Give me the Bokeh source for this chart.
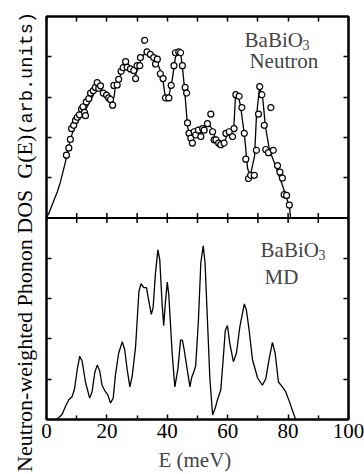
import math
from bokeh.plotting import figure
from bokeh.layouts import row
from bokeh.models import Range1d, LinearAxis, FixedTicker, Span, Label, Div
from bokeh.embed import file_html
from bokeh.resources import INLINE

# ---- Data: neutron (top panel) ----
neutron_line_E = [0, 0.7, 2.3, 3.6, 4.6, 6.3, 7.9, 9.0, 10.2, 12.3, 14.6, 16.9, 19.0, 20.6, 22.3, 22.8,
                  24.5, 26.2, 28.4, 29.5, 30.5, 31.8, 32.8, 35.0, 36.6, 38.3, 39.4, 40.4, 41.7, 42.7,
                  44.4, 45.0, 45.7, 46.7, 47.7, 49.3, 51.7, 53.3, 55.0, 56.0, 57.6, 58.9, 59.9, 62.0,
                  62.6, 63.2, 64.2, 65.6, 66.6, 67.5, 68.9, 69.5, 70.5, 71.5, 72.5, 73.8, 75.8, 78.1,
                  80.5, 80.8]
neutron_line_G = [0.02, 0.1, 0.41, 0.65, 0.89, 1.4, 1.95, 2.2, 2.38, 2.6, 2.92, 3.25, 3.1, 2.98, 2.98, 3.25,
                  3.54, 3.78, 3.7, 3.54, 3.78, 4.02, 4.1, 4.0, 3.87, 3.54, 2.98, 2.98, 3.46, 4.0,
                  4.1, 3.75, 3.22, 2.26, 2.02, 2.1, 2.21, 2.38, 2.19, 1.95, 1.83, 1.85, 2.1, 2.21,
                  3.05, 3.1, 2.81, 2.02, 1.22, 1.06, 1.54, 2.5, 3.22, 3.05, 2.26, 1.7, 1.3, 0.82,
                  0.26, 0.02]
neutron_pts_E = [6.6, 7.4, 7.9, 8.3, 9.0, 9.6, 10.2, 10.9, 11.6, 12.1, 12.6, 12.9, 13.2, 14.0, 14.6, 15.5,
                 16.2, 16.8, 17.3, 17.9, 18.8, 19.9, 20.6, 21.2, 21.9, 22.3, 23.4, 23.9, 24.7, 25.4,
                 26.2, 26.7, 27.8, 28.9, 29.5, 30.0, 30.9, 31.1, 32.5, 33.3, 34.4, 35.5, 36.1, 36.7,
                 37.7, 38.6, 39.4, 40.5, 41.3, 42.2, 42.7, 43.8, 44.4, 45.0, 45.9, 46.4, 46.7, 47.2,
                 47.8, 48.3, 48.9, 49.4, 50.3, 51.1, 51.7, 52.2, 53.3, 54.4, 55.0, 55.5, 56.1, 57.0,
                 57.7, 58.8, 59.4, 60.5, 61.6, 62.1, 62.7, 63.8, 64.7, 65.5, 66.0, 66.9, 67.6, 68.8,
                 69.5, 70.2, 70.6, 71.3, 72.1, 72.6, 73.5, 74.3, 75.1, 76.5, 77.3, 78.1, 78.7, 79.5,
                 80.4]
neutron_pts_G = [1.56, 1.74, 1.95, 2.22, 2.30, 2.42, 2.50, 2.56, 2.70, 2.76, 2.62, 2.54, 2.88, 2.96, 3.10, 3.16,
                 3.24, 3.36, 3.22, 3.28, 3.10, 3.05, 2.98, 2.94, 2.80, 3.29, 3.30, 3.44, 3.64, 3.73,
                 3.88, 3.74, 3.70, 3.66, 3.46, 3.78, 3.78, 3.98, 4.41, 4.12, 4.06, 3.98, 3.82, 3.94,
                 3.58, 3.46, 2.98, 2.98, 3.29, 3.78, 4.10, 4.12, 4.10, 3.78, 3.24, 3.10, 2.36, 2.10,
                 1.98, 1.86, 2.14, 2.06, 2.18, 2.02, 2.22, 2.18, 2.34, 2.58, 2.14, 1.94, 1.94, 1.86,
                 1.82, 1.86, 2.10, 2.14, 2.02, 2.22, 3.06, 3.02, 2.74, 2.10, 1.46, 0.98, 1.06, 1.06,
                 1.68, 2.58, 3.26, 3.06, 2.30, 1.70, 1.62, 2.74, 1.68, 1.30, 1.14, 0.99, 0.58, 0.56,
                 0.32]

# ---- Data: MD (bottom panel) ----
md_E = [3.0, 4.1, 5.2, 6.3, 7.4, 8.5, 9.3, 10.2, 11.0, 11.8, 12.9, 14.3, 15.1, 16.0, 16.8, 17.6, 18.4,
        19.5, 20.3, 21.2, 22.1, 22.8, 23.9, 25.1, 25.9, 26.7, 27.6, 28.4, 29.5, 30.6, 31.3, 32.2,
        33.1, 33.9, 34.7, 35.3, 36.1, 36.9, 37.5, 38.3, 38.8, 39.4, 40.0, 40.5, 41.6, 42.5, 43.5,
        44.4, 45.0, 45.6, 46.4, 47.5, 48.1, 48.9, 49.4, 50.3, 51.1, 51.9, 52.5, 53.3, 54.1, 55.0,
        55.9, 56.6, 57.7, 58.5, 59.2, 59.9, 60.7, 61.9, 62.9, 64.0, 65.5, 66.2, 67.1, 68.2, 69.9,
        71.5, 72.6, 73.7, 74.8, 75.7, 76.8, 78.1, 79.2, 80.4, 81.5, 82.5]
md_G = [0.0, 0.05, 0.13, 0.33, 0.49, 0.57, 0.77, 1.25, 1.57, 1.45, 0.93, 0.53, 0.69, 1.17, 1.35, 1.21, 0.85,
        0.69, 0.61, 0.41, 0.53, 1.09, 1.65, 1.93, 1.73, 1.25, 0.81, 1.09, 1.81, 3.17, 3.37, 3.27,
        3.27, 2.93, 2.61, 2.77, 3.65, 4.21, 3.97, 2.85, 2.33, 2.93, 3.41, 3.09, 1.65, 0.81, 1.25,
        1.97, 1.97, 1.73, 1.33, 0.81, 1.05, 1.21, 1.33, 2.45, 3.89, 4.31, 3.89, 2.45, 1.01, 0.11,
        0.29, 0.49, 0.73, 1.49, 2.21, 2.33, 1.89, 1.43, 1.65, 2.29, 2.87, 2.71, 2.21, 1.49, 1.03,
        0.85, 1.01, 1.49, 1.91, 1.65, 0.93, 0.81, 0.69, 0.45, 0.21, 0.0]

x_major_ticks = [0, 20, 40, 60, 80, 100]
x_minor_ticks = [10, 30, 50, 70, 90]
x_all_ticks = [0, 10, 20, 30, 40, 50, 60, 70, 80, 90, 100]
y_ticks = [1, 2, 3, 4, 6, 7, 8, 9]
panel_split = [5]
y_title_main = "Neutron-weighted Phonon DOS&nbsp; G(E)"
y_title_unit = "(arb.units)"

SERIF = "Liberation Serif"
MONO = "Liberation Mono"

LABEL_W = 38
p = figure(width=364 - LABEL_W, height=474, output_backend="svg", toolbar_location=None,
           x_range=Range1d(0, 100), y_range=Range1d(0, 10),
           min_border_left=46 - LABEL_W, min_border_right=16, min_border_top=16, min_border_bottom=42,
           x_axis_location=None, y_axis_location=None)
p.extra_y_ranges = {"top": Range1d(-5, 5)}
p.grid.visible = False
p.background_fill_color = "white"
p.border_fill_color = "white"
p.outline_line_color = "black"
p.outline_line_width = 2

def style_axis(ax, labels=False):
    ax.axis_line_width = 2
    ax.axis_line_color = "black"
    ax.major_tick_in = 5
    ax.major_tick_out = 0
    ax.minor_tick_in = 4
    ax.minor_tick_out = 0
    ax.major_tick_line_width = 1.5
    ax.minor_tick_line_width = 1.5
    if not labels:
        ax.major_label_text_font_size = "0px"
        ax.major_label_text_color = None
        ax.major_label_standoff = 0

bottom = LinearAxis(ticker=FixedTicker(ticks=x_major_ticks, minor_ticks=x_minor_ticks))
style_axis(bottom, labels=True)
bottom.major_label_text_font = SERIF
bottom.major_label_text_font_size = "21px"
bottom.major_label_text_color = "black"
bottom.major_label_standoff = 4
bottom.axis_label = "E  (meV)"
bottom.axis_label_text_font = SERIF
bottom.axis_label_text_font_size = "21px"
bottom.axis_label_text_font_style = "normal"
bottom.axis_label_standoff = 7
p.add_layout(bottom, "below")

top = LinearAxis(ticker=FixedTicker(ticks=x_all_ticks))
style_axis(top)
p.add_layout(top, "above")

left = LinearAxis(ticker=FixedTicker(ticks=y_ticks))
style_axis(left)
p.add_layout(left, "left")

right = LinearAxis(ticker=FixedTicker(ticks=y_ticks))
style_axis(right)
p.add_layout(right, "right")

# panel divider and its ticks
p.add_layout(Span(location=panel_split[0], dimension="width", line_color="black", line_width=2))
p.scatter(x=x_all_ticks, y=[panel_split[0]] * len(x_all_ticks), marker="dash", angle=math.pi / 2,
          size=10, line_color="black", line_width=1.5)

# top panel: neutron
p.line(neutron_line_E, neutron_line_G, y_range_name="top", line_color="black", line_width=1.3)
p.scatter(neutron_pts_E, neutron_pts_G, y_range_name="top", marker="circle", size=6,
          fill_color="white", line_color="black", line_width=1.2)

# bottom panel: MD
p.line(md_E, md_G, line_color="black", line_width=1.3)

# annotations
p.add_layout(Label(x=65.6, y=4.42, y_range_name="top", text="BaBiO", text_font=SERIF,
                   text_font_size="21px", text_baseline="alphabetic"))
p.add_layout(Label(x=84.8, y=4.30, y_range_name="top", text="3", text_font=SERIF,
                   text_font_size="14px", text_baseline="alphabetic"))
p.add_layout(Label(x=67.2, y=3.89, y_range_name="top", text="Neutron", text_font=SERIF,
                   text_font_size="21px", text_baseline="alphabetic"))
p.add_layout(Label(x=70.9, y=4.21, text="BaBiO", text_font=SERIF,
                   text_font_size="21px", text_baseline="alphabetic"))
p.add_layout(Label(x=90.1, y=4.09, text="3", text_font=SERIF,
                   text_font_size="14px", text_baseline="alphabetic"))
p.add_layout(Label(x=72.2, y=3.53, text="MD", text_font=SERIF,
                   text_font_size="21px", text_baseline="alphabetic"))

# y-axis title (serif part + monospace part) as rotated HTML text
title_html = (
    '<div style="position:absolute; left:14px; top:472px; transform:rotate(-90deg); '
    'transform-origin:left top; white-space:nowrap; line-height:1; color:black; '
    f'font-family:\'{SERIF}\'; font-size:22px;">'
    f'{y_title_main}<span style="font-family:\'{MONO}\'; font-size:18.6px;">{y_title_unit}</span></div>'
)
ylab = Div(text=title_html, width=LABEL_W, height=474, margin=0,
           styles={"position": "relative", "overflow": "visible", "padding": "0"})

layout = row(ylab, p, spacing=0)
open("out.html", "w").write(file_html(layout, INLINE))
